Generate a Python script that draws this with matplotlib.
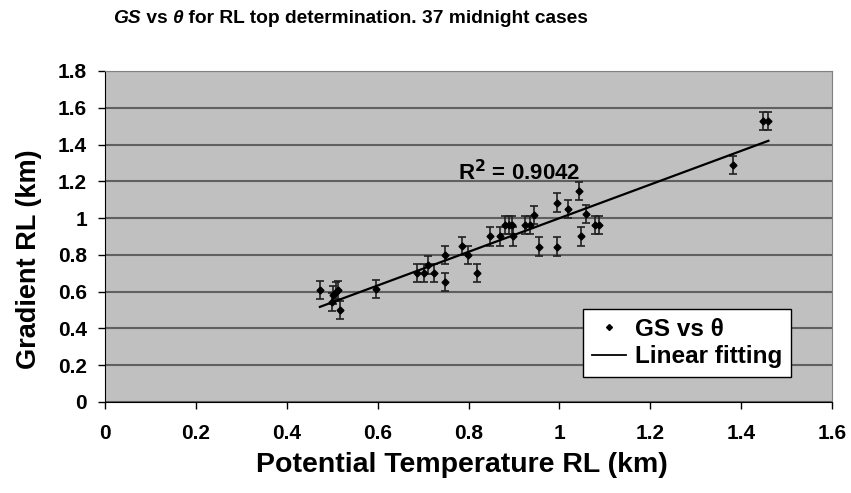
import numpy as np
import matplotlib
matplotlib.use("Agg")
import matplotlib.pyplot as plt
from matplotlib.lines import Line2D

plt.rcParams['font.family'] = ['Liberation Sans', 'DejaVu Sans']
plt.rcParams['font.weight'] = 'bold'

# potential temperature RL top (km) vs gradient RL top (km)
theta_rl = [0.473, 0.502, 0.500, 0.508, 0.512, 0.518, 0.596, 0.687, 0.702, 0.711,
            0.725, 0.749, 0.749, 0.786, 0.798, 0.818, 0.847, 0.869, 0.880, 0.890,
            0.895, 0.897, 0.924, 0.935, 0.944, 0.956, 0.994, 0.995, 1.019, 1.044,
            1.047, 1.058, 1.078, 1.088, 1.383, 1.449, 1.460]
grad_rl = [0.609, 0.582, 0.545, 0.600, 0.609, 0.500, 0.613, 0.700, 0.700, 0.745,
           0.700, 0.654, 0.800, 0.848, 0.800, 0.700, 0.900, 0.900, 0.962, 0.962,
           0.962, 0.900, 0.962, 0.962, 1.017, 0.845, 0.845, 1.084, 1.050, 1.147,
           0.900, 1.022, 0.962, 0.962, 1.289, 1.528, 1.528]
err = 0.05
r2_text = "R$^2$ = 0.9042"
xticklabels = ['0', '0.2', '0.4', '0.6', '0.8', '1', '1.2', '1.4', '1.6']
yticklabels = ['0', '0.2', '0.4', '0.6', '0.8', '1', '1.2', '1.4', '1.6', '1.8']

x = np.array(theta_rl)
y = np.array(grad_rl)
p = np.polyfit(x, y, 1)
xf = np.array([x.min(), x.max()])

fig = plt.figure(figsize=(8.51, 4.93), dpi=100)
ax = fig.add_axes([0.1234, 0.1846, 0.8543, 0.6714])
ax.set_facecolor('#C0C0C0')

ax.errorbar(x, y, yerr=err, fmt='D', ms=3.5, color='black', ecolor='#202020',
            elinewidth=1.2, capsize=3.2, capthick=1.2, zorder=3)
ax.plot(xf, np.polyval(p, xf), color='black', lw=1.6, zorder=4)

ax.text(0.777, 1.25, r2_text, fontsize=16, fontweight='bold', va='center', ha='left')

ax.set_xlim(0, 1.6)
ax.set_ylim(0, 1.8)
ax.set_xticks(np.arange(0, 1.61, 0.2))
ax.set_yticks(np.arange(0, 1.81, 0.2))
ax.set_xticklabels(xticklabels)
ax.set_yticklabels(yticklabels)
ax.tick_params(direction='out', length=5, width=1, labelsize=15)
ax.tick_params(axis='x', pad=11)
ax.tick_params(axis='y', pad=8)
ax.yaxis.grid(True, color='#606060', lw=1.5)
ax.set_axisbelow(True)
for s in ['top', 'right']:
    ax.spines[s].set_color('#808080')
for s in ['left', 'bottom']:
    ax.spines[s].set_color('black')

ax.set_xlabel('Potential Temperature RL (km)', fontsize=20.5, fontweight='bold')
ax.xaxis.set_label_coords(0.491, -0.152)
ax.set_ylabel('Gradient RL (km)', fontsize=19.5, fontweight='bold')
ax.yaxis.set_label_coords(-0.086, 0.43)

# title, GS and theta in italics
x0 = 0.133
parts = [('GS', 'italic'), (' vs ', 'normal'), ('θ', 'italic'),
         (' for RL top determination. 37 midnight cases', 'normal')]
fig.canvas.draw()
r = fig.canvas.get_renderer()
for s, st in parts:
    t = fig.text(x0, 0.963, s, fontsize=13.8, fontweight='bold', style=st,
                 va='center', ha='left')
    x0 += t.get_window_extent(r).width / fig.bbox.width

handles = [Line2D([], [], marker='D', ms=3, color='black', ls='none'),
           Line2D([], [], color='black', lw=1.3)]
leg = ax.legend(handles, ['GS vs θ', 'Linear fitting'], loc='lower right',
                bbox_to_anchor=(0.9436, 0.0755), borderaxespad=0, fontsize=17.5,
                frameon=True, fancybox=False, edgecolor='black', framealpha=1,
                handlelength=1.4, handletextpad=0.4, borderpad=0.35, labelspacing=0.2)
leg.get_frame().set_linewidth(1.0)

fig.savefig('out.png', dpi=100)
